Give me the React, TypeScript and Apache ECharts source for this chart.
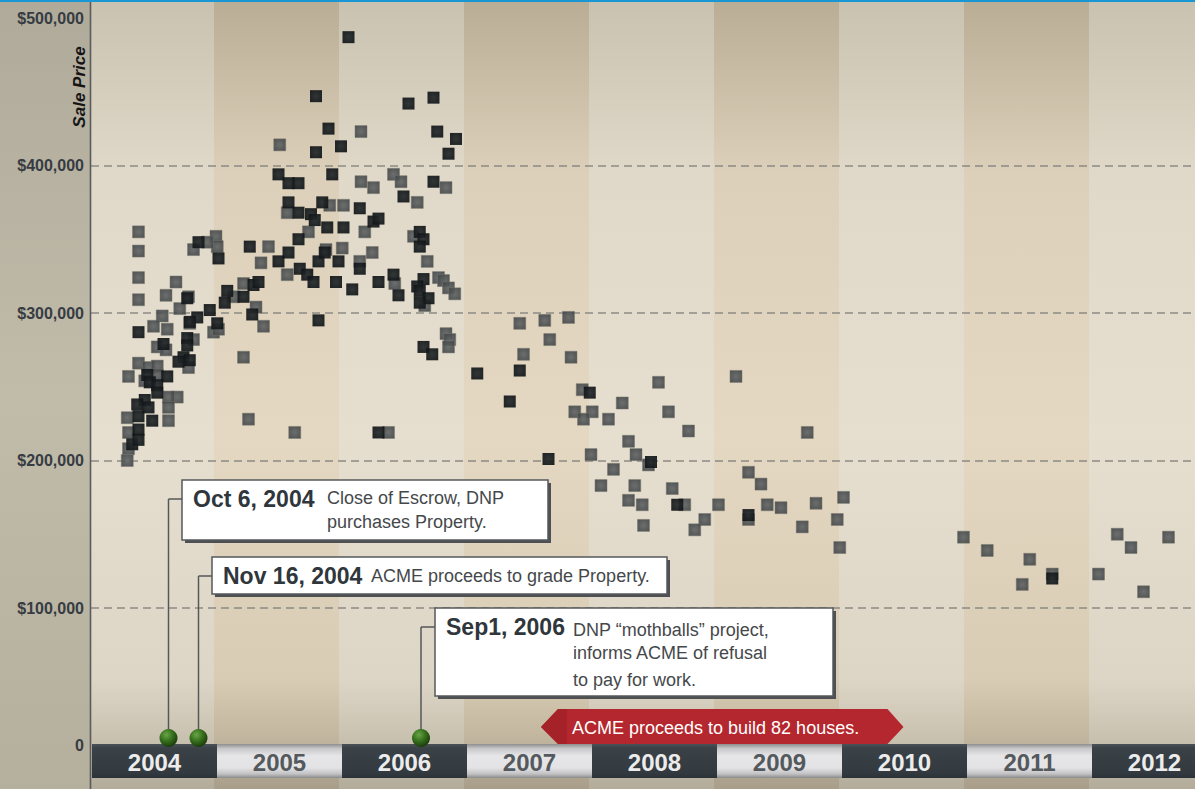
import React, { useEffect, useRef } from 'react';
import * as echarts from 'echarts';

// ---------- DATA ----------
const yearTicks = [2004, 2005, 2006, 2007, 2008, 2009, 2010, 2011, 2012];
const priceTicks = [0, 100000, 200000, 300000, 400000, 500000];

// [decimal year, sale price]
const grayPoints: [number, number][] = [
  [2004.38, 355000], [2004.38, 342000], [2004.38, 324000], [2004.38, 309000], [2004.68, 321000], [2004.60, 312000],
  [2004.71, 303000], [2004.82, 343000], [2005.00, 352000], [2005.01, 345000], [2004.93, 348000], [2004.78, 311000],
  [2004.57, 298000], [2004.50, 291000], [2004.61, 289000], [2004.53, 277000], [2004.60, 275000], [2004.38, 266000],
  [2004.30, 257000], [2004.46, 263000], [2004.53, 264000], [2004.53, 258000], [2004.43, 254000], [2004.69, 243000],
  [2004.62, 243000], [2004.62, 236000], [2004.62, 227000], [2004.29, 229000], [2004.30, 219000], [2004.30, 208000],
  [2004.29, 200000], [2004.98, 287000], [2005.02, 289000], [2004.78, 263000], [2004.82, 282000], [2004.79, 293000],
  [2005.14, 311000], [2005.22, 320000], [2005.32, 304000], [2005.38, 291000], [2005.22, 270000], [2005.26, 228000],
  [2005.63, 219000],
  [2005.51, 414000], [2005.36, 334000], [2005.42, 345000], [2005.57, 326000], [2005.57, 368000], [2005.74, 355000],
  [2005.91, 373000], [2005.88, 343000], [2006.16, 423000], [2006.16, 389000], [2006.26, 385000], [2006.42, 394000],
  [2006.48, 389000], [2006.61, 375000], [2006.84, 385000], [2006.02, 373000], [2006.19, 355000], [2006.01, 344000],
  [2006.25, 341000], [2006.15, 335000], [2006.58, 352000], [2006.69, 335000], [2006.43, 320000], [2006.67, 305000],
  [2006.78, 324000], [2006.82, 322000], [2006.86, 317000], [2006.91, 313000], [2006.84, 286000], [2006.87, 282000],
  [2006.86, 277000], [2006.38, 219000],
  [2007.43, 293000], [2007.63, 295000], [2007.82, 297000], [2007.67, 282000], [2007.46, 272000], [2007.84, 270000],
  [2007.93, 248000], [2007.87, 233000], [2008.01, 233000], [2007.94, 228000], [2008.14, 228000], [2008.25, 239000],
  [2008.54, 253000], [2008.62, 233000], [2008.78, 220000], [2009.16, 257000], [2009.73, 219000], [2008.00, 204000],
  [2008.30, 213000], [2008.36, 204000], [2008.46, 197000], [2008.18, 194000], [2008.08, 183000], [2008.35, 183000],
  [2008.30, 173000], [2008.41, 170000], [2008.65, 181000], [2008.75, 170000], [2008.42, 156000], [2008.91, 160000],
  [2008.83, 153000], [2009.02, 170000], [2009.26, 192000], [2009.36, 184000], [2009.41, 170000], [2009.52, 168000],
  [2009.26, 160000], [2009.69, 155000], [2009.80, 171000], [2010.02, 175000], [2009.97, 160000], [2009.99, 141000],
  [2010.98, 148000], [2011.17, 139000], [2011.51, 133000], [2011.45, 116000], [2011.69, 123000], [2012.21, 150000],
  [2012.32, 141000], [2012.62, 148000], [2012.06, 123000], [2012.42, 111000],
];

const darkPoints: [number, number][] = [
  [2004.86, 348000], [2005.02, 337000], [2005.09, 315000], [2004.77, 310000], [2004.85, 297000], [2004.79, 294000],
  [2004.95, 302000], [2005.01, 293000], [2004.77, 283000], [2004.77, 278000], [2004.58, 279000], [2004.38, 287000],
  [2004.74, 270000], [2004.79, 268000], [2004.70, 267000], [2004.61, 257000], [2004.45, 258000], [2004.47, 253000],
  [2004.53, 251000], [2004.43, 241000], [2004.53, 246000], [2004.37, 238000], [2004.46, 236000], [2004.38, 230000],
  [2004.49, 227000], [2004.38, 221000], [2004.33, 211000], [2004.38, 214000],
  [2005.07, 307000], [2005.22, 311000], [2005.30, 319000], [2005.34, 321000], [2005.29, 299000], [2005.27, 345000],
  [2005.50, 335000], [2005.58, 341000], [2005.66, 350000], [2005.67, 330000], [2005.73, 326000], [2005.78, 321000],
  [2005.82, 335000], [2005.87, 341000], [2005.82, 295000], [2005.96, 321000], [2005.98, 335000], [2005.50, 394000],
  [2005.58, 388000], [2005.66, 388000], [2005.93, 394000], [2005.58, 375000], [2005.66, 368000], [2005.76, 367000],
  [2005.85, 375000], [2005.79, 363000], [2005.89, 358000], [2006.02, 358000], [2005.80, 447000], [2005.90, 425000],
  [2005.80, 409000], [2006.00, 413000], [2006.06, 487000],
  [2006.54, 442000], [2006.74, 446000], [2006.77, 423000], [2006.92, 418000], [2006.86, 408000], [2006.74, 389000],
  [2006.50, 379000], [2006.15, 371000], [2006.26, 362000], [2006.30, 364000], [2006.63, 355000], [2006.66, 350000],
  [2006.63, 345000], [2006.15, 330000], [2006.09, 316000], [2006.30, 321000], [2006.42, 326000], [2006.46, 312000],
  [2006.66, 323000], [2006.61, 318000], [2006.63, 315000], [2006.70, 310000], [2006.63, 307000], [2006.66, 277000],
  [2006.73, 272000], [2006.30, 219000],
  [2007.09, 259000], [2007.43, 261000], [2007.35, 240000], [2007.66, 201000], [2008.48, 199000], [2008.69, 170000],
  [2009.26, 163000], [2011.69, 120000], [2007.99, 246000],
];

const eventDates = [2004.62, 2004.86, 2006.64];
const eventTitles = ['Oct 6, 2004', 'Nov 16, 2004', 'Sep1, 2006'];
const eventTexts = [
  ['Close of Escrow, DNP', 'purchases Property.'],
  ['ACME proceeds to grade Property.'],
  ['DNP \u201cmothballs\u201d project,', 'informs ACME of refusal', 'to pay for work.'],
];
const buildPeriod = [2007.6, 2010.5];
const buildLabel = 'ACME proceeds to build 82 houses.';
const yAxisName = 'Sale Price';

// ---------- LAYOUT / STYLE ----------
const FONT = '"Liberation Sans", Arial, Helvetica, sans-serif';
const eventLayout = [
  { boxX: 182, boxY: 480, boxW: 366, boxH: 60, elbowY: 499, titleX: 193, titleY: 499, textX: 327, lineY: [498, 522] },
  { boxX: 212, boxY: 557, boxW: 455, boxH: 37, elbowY: 576, titleX: 223, titleY: 576, textX: 371, lineY: [576] },
  { boxX: 435, boxY: 608, boxW: 398, boxH: 88, elbowY: 627, titleX: 446, titleY: 627, textX: 573, lineY: [630, 653, 680] },
];
const DOT_Y = 738;
const BAR_TOP = 744;
const BAR_H = 34;

const lg = (stops: [number, string][]) =>
  new echarts.graphic.LinearGradient(0, 0, 0, 1, stops.map(([offset, color]) => ({ offset, color })));

const bandLight = () => lg([[0, '#c9c2b0'], [0.22, '#e0d9c9'], [0.55, '#e6dfcf'], [0.86, '#ddd6c6'], [0.93, '#cbc3b2'], [1, '#b3ac9b']]);
const bandTan = () => lg([[0, '#b9ad96'], [0.22, '#dcd0ba'], [0.55, '#e4d8c2'], [0.86, '#d8ccb5'], [0.93, '#c3b7a0'], [1, '#a89e8a']]);

export default function App() {
  const ref = useRef<HTMLDivElement>(null);
  useEffect(() => {
    const chart = echarts.init(ref.current!, undefined, { renderer: 'svg', width: 1195, height: 789 });

    const bandSeries = {
      type: 'custom',
      z: -10,
      silent: true,
      clip: false,
      data: yearTicks.map((y) => [y, 0]),
      encode: { x: 0, y: 1 },
      renderItem: (params: any, api: any) => {
        const yr = api.value(0);
        const i = params.dataIndex;
        let x0 = api.coord([yr, 0])[0] - 2;
        if (i === 0) x0 = api.coord([yr, 0])[0];
        const x1 = Math.min(api.coord([yr + 1, 0])[0] - 2, api.getWidth());
        return {
          type: 'rect',
          shape: { x: x0, y: 0, width: x1 - x0, height: api.getHeight() },
          style: { fill: i % 2 === 0 ? bandLight() : bandTan() },
        };
      },
    };

    const barSeries = {
      type: 'custom',
      z: 3,
      silent: true,
      clip: false,
      data: yearTicks.map((y) => [y, 0]),
      encode: { x: 0, y: 1 },
      renderItem: (params: any, api: any) => {
        const yr = api.value(0);
        const i = params.dataIndex;
        const x0 = api.coord([yr, 0])[0] + 1;
        const x1 = Math.min(api.coord([yr + 1, 0])[0] + 1, api.getWidth());
        const dark = i % 2 === 0;
        const fill = dark
          ? lg([[0, '#4b5258'], [0.12, '#3a4147'], [0.85, '#323a40'], [1, '#2b3237']])
          : lg([[0, '#8e8e8f'], [0.14, '#c9c9cb'], [0.35, '#e6e6e8'], [0.7, '#e3e3e5'], [0.88, '#c2c2c4'], [1, '#8a8a8a']]);
        return {
          type: 'group',
          children: [
            { type: 'rect', shape: { x: x0, y: BAR_TOP, width: x1 - x0, height: BAR_H }, style: { fill } },
            {
              type: 'text',
              style: {
                text: String(yr),
                x: x0 + 62.5,
                y: BAR_TOP + BAR_H / 2 + 1,
                align: 'center',
                verticalAlign: 'middle',
                fill: dark ? '#ececec' : '#54595d',
                font: `bold 24px ${FONT}`,
              },
            },
          ],
        };
      },
    };

    const ribbonSeries = {
      type: 'custom',
      z: 4,
      silent: true,
      clip: false,
      data: [[buildPeriod[0], buildPeriod[1], 0]],
      encode: { x: [0, 1], y: 2 },
      renderItem: (params: any, api: any) => {
        const x0 = api.coord([api.value(0), 0])[0];
        const x1 = api.coord([api.value(1), 0])[0];
        const t = 709, b = 744, m = 727;
        return {
          type: 'group',
          children: [
            {
              type: 'polygon',
              shape: { points: [[x0, m], [x0 + 17, t], [x1 - 16, t], [x1, m], [x1 - 16, b], [x0 + 17, b]] },
              style: { fill: '#b5272e' },
            },
            {
              type: 'polygon',
              shape: { points: [[x0, m], [x0 + 17, t], [x0 + 26, t], [x0 + 26, b], [x0 + 17, b]] },
              style: { fill: '#a52228' },
            },
            {
              type: 'text',
              style: {
                text: buildLabel,
                x: x0 + 31,
                y: m + 1,
                align: 'left',
                verticalAlign: 'middle',
                fill: '#ffffff',
                font: `18px ${FONT}`,
              },
            },
          ],
        };
      },
    };

    const eventSeries = {
      type: 'custom',
      z: 6,
      silent: true,
      clip: false,
      data: eventDates.map((d) => [d, 0]),
      encode: { x: 0, y: 1 },
      renderItem: (params: any, api: any) => {
        const i = params.dataIndex;
        const L = eventLayout[i];
        const x = api.coord([api.value(0), 0])[0];
        const children: any[] = [
          { type: 'line', shape: { x1: x, y1: DOT_Y, x2: x, y2: L.elbowY }, style: { stroke: '#55585a', lineWidth: 1.5 } },
          { type: 'line', shape: { x1: x, y1: L.elbowY, x2: L.boxX, y2: L.elbowY }, style: { stroke: '#55585a', lineWidth: 1.5 } },
          { type: 'rect', shape: { x: L.boxX + 3, y: L.boxY + 3, width: L.boxW, height: L.boxH }, style: { fill: '#4e5053' } },
          { type: 'rect', shape: { x: L.boxX, y: L.boxY, width: L.boxW, height: L.boxH }, style: { fill: '#ffffff', stroke: '#55585b', lineWidth: 1.5 } },
          {
            type: 'text',
            style: { text: eventTitles[i], x: L.titleX, y: L.titleY, align: 'left', verticalAlign: 'middle', fill: '#2f363c', font: `bold 23px ${FONT}` },
          },
          {
            type: 'circle',
            shape: { cx: x, cy: DOT_Y, r: 9 },
            style: {
              fill: new echarts.graphic.RadialGradient(0.38, 0.32, 0.75, [
                { offset: 0, color: '#6aa446' },
                { offset: 0.5, color: '#356e1c' },
                { offset: 1, color: '#17320a' },
              ]),
            },
          },
        ];
        eventTexts[i].forEach((txt, k) => {
          children.push({
            type: 'text',
            style: { text: txt, x: L.textX, y: L.lineY[k], align: 'left', verticalAlign: 'middle', fill: '#45484b', font: `18px ${FONT}` },
          });
        });
        return { type: 'group', children };
      },
    };

    const option: any = {
      animation: false,
      backgroundColor: '#e2dbcb',
      grid: { left: 91, right: 0, top: 18, bottom: 33.5, containLabel: false },
      xAxis: {
        type: 'value',
        min: yearTicks[0],
        max: yearTicks[0] + (1195 - 91) / 125,
        interval: 1,
        axisLine: { show: false },
        axisTick: { show: false },
        axisLabel: { show: false },
        splitLine: { show: false },
      },
      yAxis: {
        type: 'value',
        min: priceTicks[0],
        max: priceTicks[priceTicks.length - 1],
        interval: priceTicks[1] - priceTicks[0],
        axisLine: { show: false },
        axisTick: { show: false },
        splitLine: {
          show: true,
          showMinLine: false,
          showMaxLine: false,
          lineStyle: { type: [8, 5], color: '#8d8a84', width: 1.5 },
        },
        axisLabel: {
          margin: 7,
          formatter: (v: number) => (v === 0 ? '{z|0}' : '{a|$' + v.toLocaleString('en-US') + '}'),
          rich: {
            a: { fontFamily: FONT, fontWeight: 'bold', fontSize: 16, color: '#363c42' },
            z: { fontFamily: FONT, fontWeight: 'bold', fontSize: 16, color: '#363c42', padding: [0, 0, 21, 0] },
          },
        },
      },
      graphic: [
        {
          type: 'rect',
          z: -20,
          shape: { x: 0, y: 0, width: 90, height: 789 },
          style: { fill: lg([[0, '#b0aa9a'], [0.5, '#c1bbaa'], [1, '#b5af9e']]) },
          silent: true,
        },
        { type: 'line', z: 1, shape: { x1: 90.5, y1: 0, x2: 90.5, y2: 789 }, style: { stroke: '#5a5b5c', lineWidth: 1.6 }, silent: true },
        { type: 'rect', z: 10, shape: { x: 0, y: 0, width: 1195, height: 2 }, style: { fill: '#1897d4' }, silent: true },
        {
          type: 'text',
          z: 10,
          x: 79,
          y: 87,
          rotation: Math.PI / 2,
          style: { text: yAxisName, align: 'center', verticalAlign: 'middle', fill: '#151515', font: `italic bold 17px ${FONT}` },
          silent: true,
        },
      ],
      series: [
        bandSeries,
        {
          type: 'scatter',
          name: 'gray',
          symbol: 'rect',
          symbolSize: 12,
          z: 2,
          data: grayPoints,
          itemStyle: {
            opacity: 0.9,
            color: new echarts.graphic.RadialGradient(0.5, 0.5, 0.7, [
              { offset: 0, color: '#5f6363' },
              { offset: 1, color: '#3d4143' },
            ]),
            borderColor: 'rgba(120,120,112,0.7)',
            borderWidth: 0.8,
          },
        },
        {
          type: 'scatter',
          name: 'dark',
          symbol: 'rect',
          symbolSize: 12,
          z: 2,
          data: darkPoints,
          itemStyle: {
            opacity: 0.93,
            color: new echarts.graphic.RadialGradient(0.5, 0.5, 0.7, [
              { offset: 0, color: '#252a2c' },
              { offset: 1, color: '#0e1214' },
            ]),
          },
        },
        ribbonSeries,
        barSeries,
        eventSeries,
      ],
    };

    chart.setOption(option);
    return () => chart.dispose();
  }, []);

  return <div ref={ref} style={{ position: 'fixed', left: 0, top: 0, width: 1195, height: 789 }} />;
}
